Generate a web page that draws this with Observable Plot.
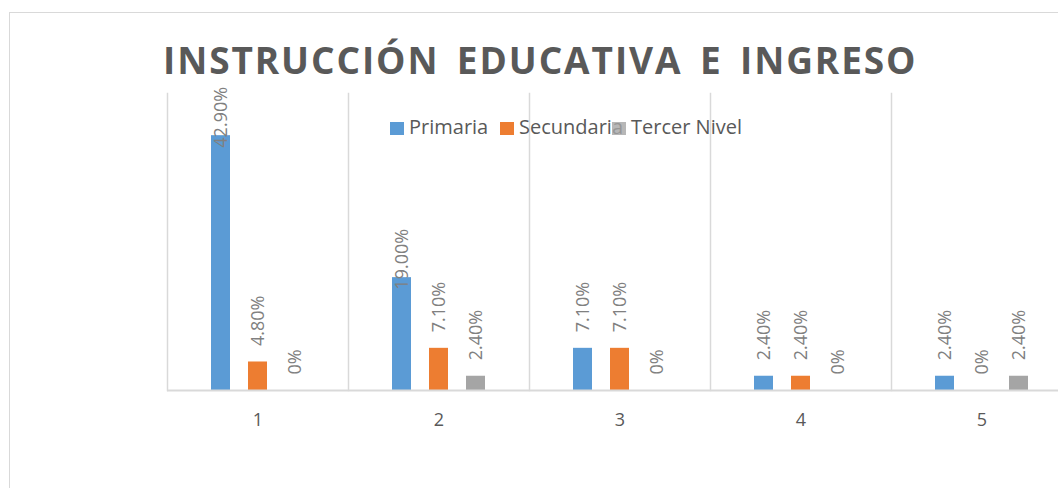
<!DOCTYPE html>
<html>
<head>
<meta charset="utf-8">
<script src="https://cdn.jsdelivr.net/npm/d3@7"></script>
<script src="https://cdn.jsdelivr.net/npm/@observablehq/plot@0.6"></script>
<style>
  html, body { margin: 0; padding: 0; background: #fff; overflow: hidden; width: 1058px; height: 488px; }
  #wrap { position: relative; width: 1058px; height: 488px; overflow: hidden; font-family: "Open Sans", sans-serif; }
  #border { position: absolute; left: 9px; top: 12px; width: 1070px; height: 500px; border: 1px solid #d9d9d9; box-sizing: border-box; }
  #title { position: absolute; left: 163px; top: 41px; font-weight: 700; font-size: 37px; letter-spacing: 1.9px; word-spacing: 6px; color: #595959; white-space: nowrap; line-height: 1; }
  #chart { position: absolute; left: 0; top: 0; width: 1074px; }
  #chart svg { max-width: none !important; }
  .leg { position: absolute; top: 114px; font-size: 20px; color: #595959; white-space: nowrap; line-height: 26px; }
  .sw { position: absolute; width: 14px; height: 13px; }
</style>
</head>
<body>
<div id="wrap">
  <div id="border"></div>
  <div id="chart"></div>
  <div id="title">INSTRUCCIÓN EDUCATIVA E INGRESO</div>
  <div id="legend"></div>
</div>
<script>
const categories = ["1", "2", "3", "4", "5"];
const seriesNames = ["Primaria", "Secundaria", "Tercer Nivel"];
const primaria = [42.9, 19.0, 7.1, 2.4, 2.4];
const secundaria = [4.8, 7.1, 7.1, 2.4, 0];
const tercerNivel = [0, 2.4, 0, 0, 2.4];
const labels = {
  "Primaria": ["42.90%", "19.00%", "7.10%", "2.40%", "2.40%"],
  "Secundaria": ["4.80%", "7.10%", "7.10%", "2.40%", "0%"],
  "Tercer Nivel": ["0%", "2.40%", "0%", "0%", "2.40%"]
};
const colors = ["#5b9bd5", "#ed7d31", "#a5a5a5"];

const seriesValues = [primaria, secundaria, tercerNivel];
const data = [];
categories.forEach((c, i) => {
  seriesNames.forEach((s, j) => {
    data.push({cat: c, series: s, value: seriesValues[j][i], label: labels[s][i]});
  });
});

const plot = Plot.plot({
  width: 1074,
  height: 488,
  marginTop: 93,
  marginBottom: 98,
  marginLeft: 165,
  marginRight: 1,
  style: {fontFamily: "Open Sans, sans-serif", background: "transparent", maxWidth: "none"},
  fx: {domain: categories, padding: 0, label: null},
  x: {domain: seriesNames, paddingInner: 0.48, paddingOuter: 1.16, axis: null},
  y: {domain: [0, 50], axis: null},
  color: {domain: seriesNames, range: colors},
  marks: [
    Plot.frame({anchor: "left", stroke: "#d9d9d9", strokeWidth: 1.5, strokeOpacity: 1}),
    Plot.barY(data, {fx: "cat", x: "series", y: "value", fill: "series"}),
    Plot.ruleY([0], {stroke: "#d9d9d9", strokeWidth: 2}),
    Plot.text(data.filter(d => d.value <= 10), {
      fx: "cat", x: "series", y: "value", text: "label",
      rotate: -90, textAnchor: "start", dy: -16,
      fill: "#808080", fontSize: 18
    }),
    Plot.text(data.filter(d => d.value > 10), {
      fx: "cat", x: "series", y: "value", text: "label",
      rotate: -90, textAnchor: "start", dy: 12,
      fill: "#808080", fontSize: 18
    }),
    Plot.axisFx({anchor: "bottom", tickSize: 0, tickPadding: 23, fontSize: 18, fill: "#595959", label: null})
  ]
});
plot.style.maxWidth = "none";
document.getElementById("chart").appendChild(plot);

// legend
const legend = document.getElementById("legend");
const legX = [390, 500, 612];
seriesNames.forEach((s, i) => {
  const item = document.createElement("div");
  item.className = "leg";
  item.style.left = legX[i] + "px";
  item.style.paddingLeft = "19px";
  item.textContent = s;
  legend.appendChild(item);
});
seriesNames.forEach((s, i) => {
  const sw = document.createElement("div");
  sw.className = "sw";
  sw.style.left = legX[i] + "px";
  sw.style.top = "122px";
  sw.style.background = colors[i];
  if (i === 2) sw.style.opacity = "0.8";
  legend.appendChild(sw);
});
</script>
</body>
</html>
